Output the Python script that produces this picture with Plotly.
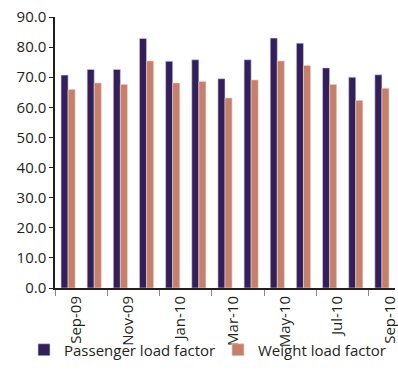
import plotly.graph_objects as go

months = ["Sep-09", "Oct-09", "Nov-09", "Dec-09", "Jan-10", "Feb-10", "Mar-10",
          "Apr-10", "May-10", "Jun-10", "Jul-10", "Aug-10", "Sep-10"]
passenger = [70.7, 72.6, 72.6, 82.9, 75.3, 75.8, 69.5, 75.8, 83.0, 81.3, 73.1, 70.0, 70.8]
weight = [65.9, 68.1, 67.6, 75.4, 68.1, 68.6, 63.1, 69.1, 75.4, 73.9, 67.6, 62.3, 66.3]
label_months = ["Sep-09", "Nov-09", "Jan-10", "Mar-10", "May-10", "Jul-10", "Sep-10"]

idx = list(range(len(months)))
lab_pos = [months.index(m) + 0.3 for m in label_months]
bounds = [months.index(m) - 0.5 for m in label_months]

font = "Open Sans"
txt = "#231F20"

W, H = 398, 380

fig = go.Figure()
fig.add_bar(x=idx, y=passenger, name="Passenger load factor", legend="legend",
            showlegend=True,
            marker=dict(color="#33205B", line=dict(color="#D8D0E4", width=0.6)))
fig.add_bar(x=idx, y=weight, name="Weight load factor", legend="legend2",
            showlegend=True,
            marker=dict(color="#C4806B", line=dict(color="#EBD3CB", width=0.6)))

fig.update_layout(
    width=W, height=H,
    showlegend=True,
    margin=dict(l=55, r=3, t=17, b=92, autoexpand=False),
    paper_bgcolor="white", plot_bgcolor="white",
    barmode="group", bargap=0.46, bargroupgap=0,
    font=dict(family=font, size=15, color=txt),
    legend=dict(xref="container", yref="container", x=24 / W, xanchor="left",
                y=30 / H, yanchor="middle", font=dict(size=15), bgcolor="rgba(0,0,0,0)"),
    legend2=dict(xref="container", yref="container", x=218 / W, xanchor="left",
                 y=30 / H, yanchor="middle", font=dict(size=15), bgcolor="rgba(0,0,0,0)"),
    xaxis=dict(range=[-0.5, 12.5], tickmode="array", tickvals=lab_pos, ticktext=label_months,
               tickangle=-90, ticks="", showline=True, linecolor="#231F20", linewidth=2,
               showgrid=False, zeroline=False, automargin=False, ticklabeloverflow="allow",
               minor=dict(tickmode="array", tickvals=bounds,
                          ticks="outside", ticklen=6, tickcolor="#888888", tickwidth=1)),
    yaxis=dict(range=[0, 90], dtick=10, tickformat=".1f", ticks="outside", ticklen=4,
               tickcolor=txt, showline=True, linecolor=txt, linewidth=1.5,
               showgrid=False, zeroline=False, automargin=False, ticklabeloverflow="allow"),
)

# remove the browser's default 8px body margin so the figure fills the window exactly
fig.write_html("out.html", config={"displayModeBar": False},
               post_script="document.body.style.margin='0';document.body.style.overflow='hidden';")
